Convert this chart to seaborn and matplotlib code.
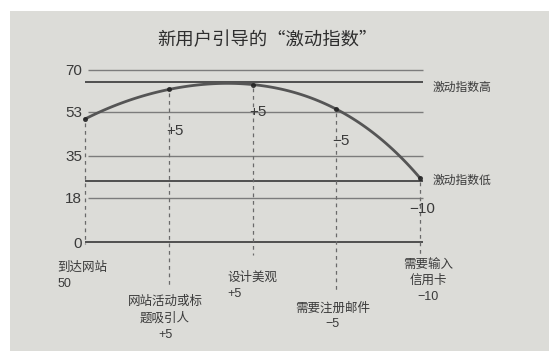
import matplotlib
matplotlib.use("Agg")
import matplotlib.pyplot as plt
import seaborn as sns
import numpy as np

# chart data
steps = [0, 1, 2, 3, 4]
step_names = ['到达网站', '网站活动或标\n题吸引人', '设计美观', '需要注册邮件', '需要输入\n信用卡']
step_changes = ['50', '+5', '+5', '−5', '−10']
excitement = [50, 62, 64, 54, 26]
y_ticks = [0, 18, 35, 53, 70]
high_level = 65
low_level = 25
high_label = '激动指数高'
low_label = '激动指数低'
title = '新用户引导的“激动指数”'

sns.set_theme(style='white')
plt.rcParams['font.family'] = ['Liberation Sans', 'Noto Sans CJK SC']
plt.rcParams['axes.unicode_minus'] = True

paper = '#dcdcd8'
ink = '#3a3a3a'

fig = plt.figure(figsize=(5.49, 3.51), dpi=100)
fig.patch.set_facecolor('white')
ax = fig.add_axes([10 / 549, 0, 539 / 549, 340 / 351])
ax.set_facecolor(paper)
for s in ax.spines.values():
    s.set_visible(False)

ax.set_xlim(-0.896, 5.54)
ax.set_ylim(-44.3, 93.9)

# horizontal reference lines
thin = [v for v in y_ticks if v != 0]
ax.hlines(thin, 0.03, 4.04, color='#7c7c7c', lw=1.0, zorder=1)
ax.hlines([high_level, low_level, 0], 0.0, 4.04, color='#4f4f4f', lw=1.4, zorder=1)

# dashed drops from each step down to its label
drop_bottoms = [-1, -17.5, -5.3, -20, -6]
for x, top, bot in zip(steps, excitement, drop_bottoms):
    ax.plot([x, x], [top - 1.5, bot], color='#6a6a6a', lw=0.9,
            ls=(0, (3, 3)), zorder=1)

# the excitement curve
sns.regplot(x=steps, y=excitement, order=4, ci=None, truncate=True, ax=ax,
            scatter_kws={'s': 7, 'color': '#222222', 'zorder': 4},
            line_kws={'color': '#555555', 'lw': 2.0, 'zorder': 3})
ax.set_xlabel('')
ax.set_ylabel('')

# y ticks drawn inside the axes
ax.set_xticks([])
ax.set_yticks(y_ticks)
ax.set_yticklabels([str(v) for v in y_ticks])
ax.tick_params(axis='y', length=0, pad=-52, labelsize=11, labelcolor=ink)

# change annotations next to the curve
change_pos = [(1.07, 45), (2.07, 53), (3.06, 41), (4.03, 13.5)]
for (x, y), txt in zip(change_pos, step_changes[1:]):
    ax.text(x, y, txt, ha='center', va='center', fontsize=11, color=ink, zorder=5)

# right-hand labels
ax.text(4.155, high_level - 2.5, high_label, ha='left', va='center', fontsize=8.5, color=ink)
ax.text(4.155, low_level, low_label, ha='left', va='center', fontsize=8.5, color=ink)

# step labels under the axis
label_pos = [(-0.334, -8.1, 'left'), (0.955, -22, 'center'), (1.70, -12.2, 'left'),
             (2.96, -24.4, 'center'), (4.1, -6.9, 'center')]
for (x, y, ha), name, chg in zip(label_pos, step_names, step_changes):
    ax.text(x, y, name + '\n' + chg, ha=ha, va='top', multialignment=ha,
            fontsize=9, color=ink, linespacing=1.45)

fig.text(267.5 / 549, 1 - 40 / 351, title, ha='center', va='center',
         fontsize=13.2, color='#2e2e2e', family=['Noto Sans CJK SC', 'DejaVu Sans'])

fig.savefig('out.png', dpi=100, facecolor=fig.get_facecolor())
